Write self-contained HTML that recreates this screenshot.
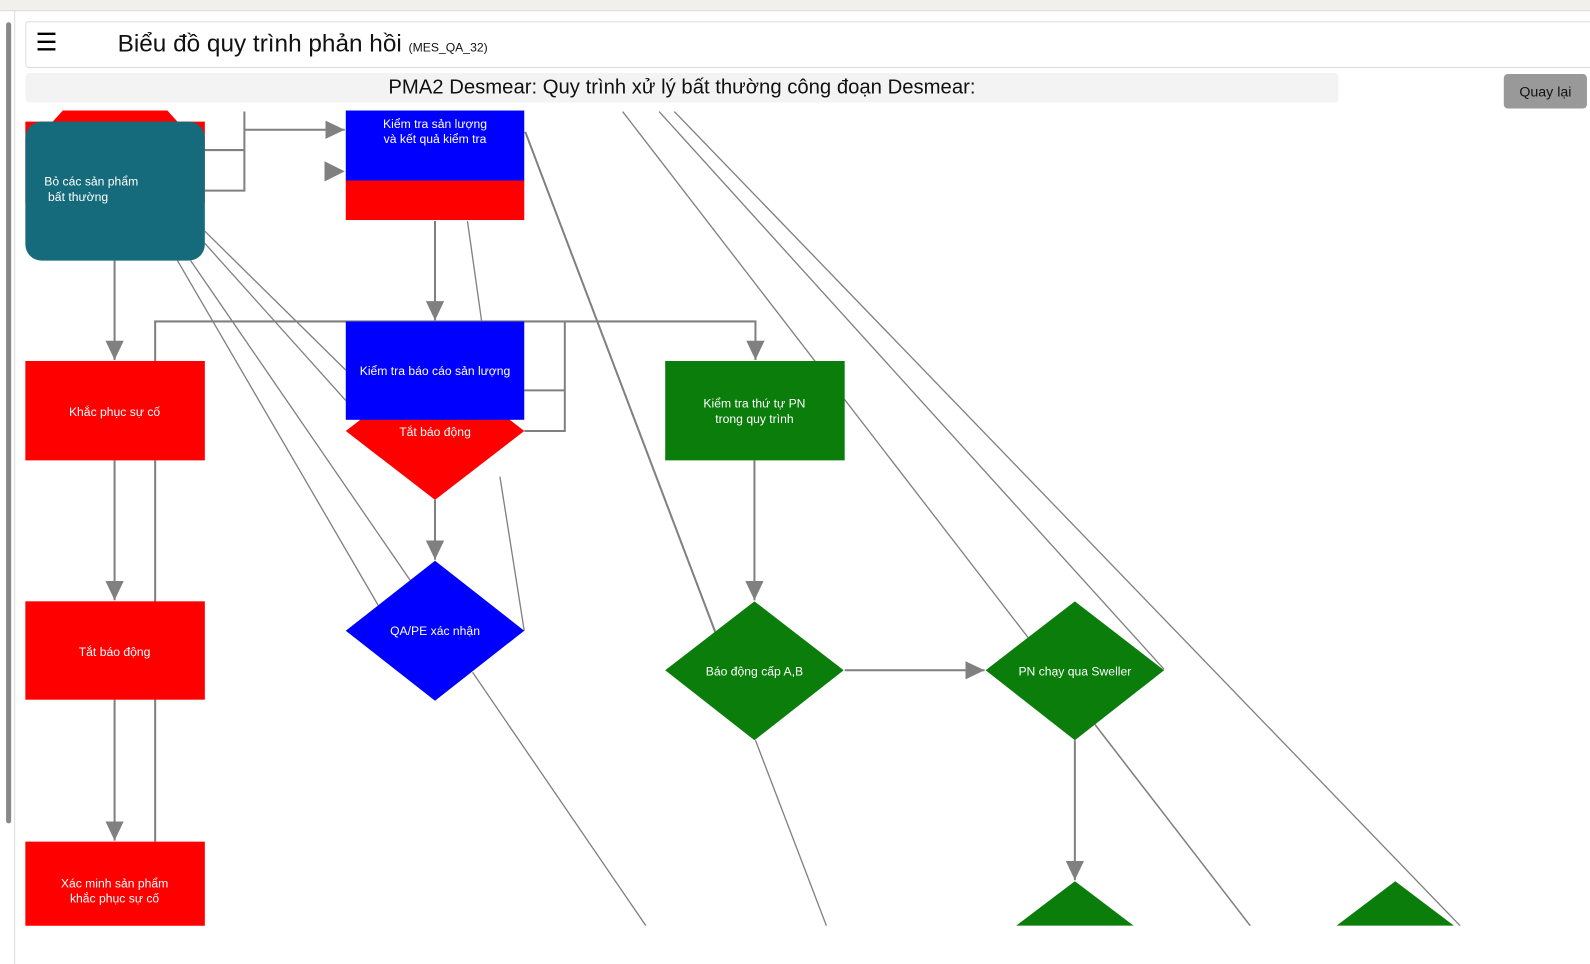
<!DOCTYPE html>
<html><head><meta charset="utf-8"><style>
html,body{margin:0;width:1590px;height:951px;overflow:hidden;background:#fff}
#w{position:absolute;left:0;top:0;width:1568px;height:938px;transform:scale(1.01403);transform-origin:0 0;font-family:"Liberation Sans",Arial,sans-serif}
.top{position:absolute;left:0;top:0;width:1568px;height:10px;background:#f1f0ec;border-bottom:1px solid #ddd}
.sb{position:absolute;left:6px;top:22px;width:5px;height:790px;background:#888;border-radius:3px}
.lb{position:absolute;left:14px;top:10px;width:1px;height:941px;background:#ddd}
.hdr{position:absolute;left:25px;top:21px;width:1580px;height:44px;border:1px solid #ddd;border-radius:3px;background:#fff}
.hdr .m{position:absolute;left:9px;top:6px;font-size:24px}
.hdr .t{position:absolute;left:90px;top:8px;font-size:24px;color:#111}
.hdr .t small{font-size:12px}
.sub{position:absolute;left:25px;top:72px;width:1295px;height:29px;background:#f3f3f3;border-radius:4px;text-align:center;font-size:20px;line-height:29px;color:#111}
.btn{position:absolute;left:1483px;top:73px;width:82px;height:34px;background:#999;border-radius:4px;font-size:14px;line-height:34px;text-align:center;color:#111}
svg{position:absolute;left:0;top:0}
svg text{font-family:"Liberation Sans",Arial,sans-serif;font-size:12px;fill:#fff;text-anchor:middle}
</style></head><body><div id="w">
<div class="top"></div><div class="lb"></div><div class="sb"></div>
<div class="hdr"><div class="m">☰</div><div class="t">Biểu đồ quy trình phản hồi <small>(MES_QA_32)</small></div></div>
<div class="sub">PMA2 Desmear: Quy trình xử lý bất thường công đoạn Desmear:</div>
<div class="btn">Quay lại</div>
<svg width="1568" height="938">
<defs><clipPath id="c"><rect x="15" y="109" width="1575" height="804"/></clipPath>
<marker id="b" markerWidth="20" markerHeight="20" refX="19" refY="10" orient="auto" markerUnits="userSpaceOnUse"><path d="M0,1 L19,10 L0,19z" fill="#808080"/></marker>
</defs>
<g clip-path="url(#c)">
<g stroke="#808080" stroke-width="1.3" fill="none">
<line x1="518" y1="130" x2="706" y2="625" stroke-width="2"/>
<line x1="614" y1="110" x2="1233" y2="913"/>
<line x1="650" y1="110" x2="1148" y2="660"/>
<line x1="665" y1="110" x2="1440" y2="913"/>
<line x1="202" y1="228" x2="341" y2="365"/>
<line x1="202" y1="240" x2="341" y2="395"/>
<line x1="188" y1="257" x2="405" y2="573"/>
<line x1="175" y1="257" x2="373" y2="597"/>
<line x1="466" y1="663" x2="637" y2="913"/>
<line x1="461" y1="218" x2="475" y2="317"/>
<line x1="493" y1="470" x2="517" y2="622"/>
<line x1="745" y1="730" x2="815" y2="913"/>
<line x1="1080" y1="715" x2="1233" y2="913"/>
</g>
<g stroke="#808080" stroke-width="2" fill="none">
<polyline points="202,148 241,148"/><polyline points="202,188 241,188 241,110"/>
<line x1="241" y1="128" x2="340" y2="128" marker-end="url(#b)"/>
<line x1="429" y1="218" x2="429" y2="316" marker-end="url(#b)"/>
<polyline points="153,356 153,317 745,317 745,355" marker-end="url(#b)"/>
<line x1="153" y1="454" x2="153" y2="830"/>
<line x1="113" y1="257" x2="113" y2="355" marker-end="url(#b)"/>
<line x1="113" y1="454" x2="113" y2="592" marker-end="url(#b)"/>
<line x1="113" y1="690" x2="113" y2="829" marker-end="url(#b)"/>
<polyline points="517,385 557,385"/><polyline points="517,425 557,425 557,317"/>
<line x1="429" y1="493" x2="429" y2="552" marker-end="url(#b)"/>
<line x1="744" y1="454" x2="744" y2="592" marker-end="url(#b)"/>
<line x1="833" y1="661" x2="971" y2="661" marker-end="url(#b)"/>
<line x1="1060" y1="730" x2="1060" y2="868" marker-end="url(#b)"/>
</g>
<path d="M320,159 L340,169 L320,179z" fill="#808080"/>
<path d="M62,109 L165,109 L175,120 L202,120 L202,200 L25,200 L25,120 L52,120z" fill="#f00"/>
<rect x="25" y="120" width="177" height="137" rx="16" fill="#156b7c"/>
<text x="90" y="183">Bỏ các sản phẩm</text><text x="77" y="198">bất thường</text>
<rect x="341" y="109" width="176" height="70" fill="#00f"/>
<rect x="341" y="178" width="176" height="39" fill="#f00"/>
<text x="429" y="126">Kiểm tra sản lượng</text><text x="429" y="141">và kết quả kiểm tra</text>
<path d="M341,425 L429,357 L517,425 L429,493z" fill="#f00"/>
<rect x="341" y="317" width="176" height="97" fill="#00f"/>
<text x="429" y="370">Kiểm tra báo cáo sản lượng</text>
<text x="429" y="430">Tắt báo động</text>
<rect x="656" y="356" width="177" height="98" fill="#0a7d0a"/>
<text x="744" y="402">Kiểm tra thứ tự PN</text><text x="744" y="417">trong quy trình</text>
<path d="M341,622 L429,553 L517,622 L429,691z" fill="#00f"/><text x="429" y="626">QA/PE xác nhận</text>
<path d="M656,661 L744,593 L832,661 L744,730z" fill="#0a7d0a"/><text x="744" y="666">Báo động cấp A,B</text>
<path d="M972,661 L1060,593 L1148,661 L1060,730z" fill="#0a7d0a"/><text x="1060" y="666">PN chạy qua Sweller</text>
<path d="M1060,869 L1118,913 L1002,913z" fill="#0a7d0a"/>
<path d="M1376,869 L1434,913 L1318,913z" fill="#0a7d0a"/>
<rect x="25" y="356" width="177" height="98" fill="#f00"/><text x="113" y="410">Khắc phục sự cố</text>
<rect x="25" y="593" width="177" height="97" fill="#f00"/><text x="113" y="647">Tắt báo động</text>
<rect x="25" y="830" width="177" height="84" fill="#f00"/><text x="113" y="875">Xác minh sản phẩm</text><text x="113" y="890">khắc phục sự cố</text>
</g>
</svg>
</div></body></html>
